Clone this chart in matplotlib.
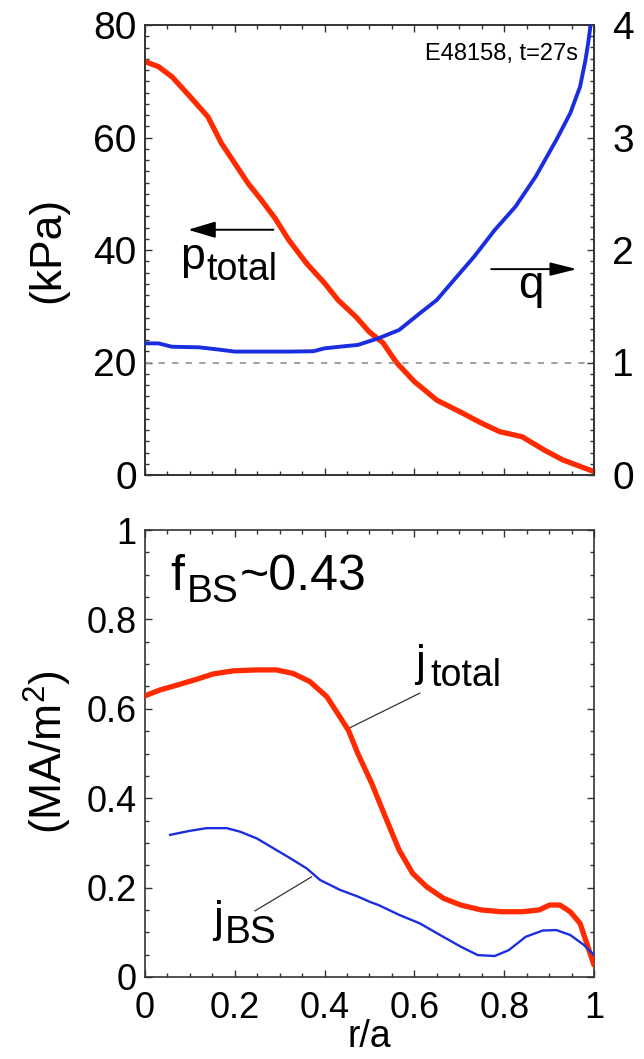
import matplotlib
matplotlib.use("Agg")
import matplotlib.pyplot as plt
from matplotlib.ticker import MultipleLocator, FixedLocator

plt.rcParams['font.family'] = ['Liberation Sans', 'DejaVu Sans']

# ---------------- data ----------------
r_p = [0.00, 0.03, 0.06, 0.10, 0.14, 0.17, 0.21, 0.23, 0.26, 0.29, 0.32, 0.36, 0.40,
       0.43, 0.47, 0.50, 0.53, 0.56, 0.60, 0.65, 0.70, 0.75, 0.79, 0.84, 0.89, 0.93,
       0.97, 1.00]
p_total = [73.5, 72.6, 70.8, 67.3, 63.7, 59.0, 54.2, 51.8, 48.8, 45.6, 41.8, 37.6, 34.1,
           31.1, 28.1, 25.4, 23.5, 20.0, 16.6, 13.3, 11.3, 9.2, 7.7, 6.8, 4.4, 2.7,
           1.5, 0.6]

r_q = [0.00, 0.03, 0.06, 0.12, 0.16, 0.20, 0.25, 0.32, 0.375, 0.40, 0.45, 0.474, 0.50,
       0.52, 0.566, 0.612, 0.65, 0.688, 0.733, 0.779, 0.825, 0.87, 0.916, 0.947, 0.969,
       0.981, 0.988, 0.994]
q = [1.17, 1.17, 1.14, 1.135, 1.117, 1.097, 1.097, 1.097, 1.10, 1.126, 1.147, 1.156, 1.19,
     1.215, 1.289, 1.437, 1.556, 1.733, 1.941, 2.178, 2.385, 2.652, 2.978, 3.215, 3.452,
     3.689, 3.867, 4.05]

r_jt = [0.0, 0.033, 0.071, 0.115, 0.152, 0.197, 0.249, 0.293, 0.33, 0.367, 0.405, 0.434,
        0.453, 0.474, 0.505, 0.535, 0.566, 0.596, 0.627, 0.665, 0.703, 0.749, 0.794, 0.84,
        0.878, 0.901, 0.924, 0.947, 0.969, 0.984, 1.0]
j_total = [0.629, 0.642, 0.653, 0.666, 0.678, 0.685, 0.687, 0.687, 0.679, 0.661, 0.627,
           0.582, 0.552, 0.50, 0.433, 0.359, 0.284, 0.232, 0.202, 0.176, 0.161, 0.150,
           0.146, 0.146, 0.150, 0.161, 0.161, 0.146, 0.120, 0.075, 0.027]

r_jb = [0.056, 0.10, 0.137, 0.182, 0.212, 0.249, 0.286, 0.323, 0.36, 0.39, 0.434, 0.474,
        0.501, 0.52, 0.566, 0.612, 0.657, 0.703, 0.741, 0.779, 0.81, 0.848, 0.886, 0.916,
        0.947, 0.977, 1.0]
j_bs = [0.318, 0.327, 0.333, 0.333, 0.325, 0.310, 0.288, 0.266, 0.243, 0.217, 0.195,
        0.180, 0.168, 0.161, 0.139, 0.120, 0.094, 0.068, 0.049, 0.047, 0.060, 0.090,
        0.104, 0.105, 0.094, 0.072, 0.049]

x_ticks = [0, 0.2, 0.4, 0.6, 0.8, 1.0]
x_ticklabels = ['0', '0.2', '0.4', '0.6', '0.8', '1']
p_ticks = [0, 20, 40, 60, 80]
q_ticks = [0, 1, 2, 3, 4]
j_ticks = [0, 0.2, 0.4, 0.6, 0.8, 1.0]
j_ticklabels = ['0', '0.2', '0.4', '0.6', '0.8', '1']

RED = '#ff2a00'
BLUE = '#1a2ee0'
SPINE = '#333333'

W, H = 644, 1059
fig = plt.figure(figsize=(W / 100, H / 100), dpi=100)


def rect(x0, y0, x1, y1):
    return [x0 / W, 1 - y1 / H, (x1 - x0) / W, (y1 - y0) / H]


def style_axis(ax, left=True, right=True):
    for s in ax.spines.values():
        s.set_color(SPINE)
        s.set_linewidth(1.2)
    ax.tick_params(which='both', direction='in', top=True, right=right, left=left,
                   color=SPINE, width=1.0)
    ax.tick_params(which='major', length=5)
    ax.tick_params(which='minor', length=3)


# ---------------- top panel ----------------
ax1 = fig.add_axes(rect(145, 25, 594, 475))
ax1.plot(r_p, p_total, color=RED, lw=3.8, solid_capstyle='round', zorder=3)
ax1.set_xlim(0, 1)
ax1.set_ylim(0, 80)
ax1.set_yticks(p_ticks)
ax1.yaxis.set_minor_locator(MultipleLocator(2))
ax1.xaxis.set_major_locator(FixedLocator(x_ticks))
ax1.xaxis.set_minor_locator(MultipleLocator(0.05))
ax1.set_xticklabels([])
style_axis(ax1, right=False)
ax1.tick_params(axis='y', labelsize=28, pad=6)

ax2 = ax1.twinx()
ax2.set_ylim(0, 4)
ax2.axhline(1.0, color='#999999', lw=1.3, linestyle=(0, (3.5, 4)), zorder=1)
ax2.plot(r_q, q, color=BLUE, lw=2.8, zorder=3)
ax2.set_yticks(q_ticks)
ax2.yaxis.set_minor_locator(MultipleLocator(0.1))
for s in ax2.spines.values():
    s.set_color(SPINE)
    s.set_linewidth(1.2)
ax2.tick_params(which='both', direction='in', color=SPINE, width=1.0)
ax2.tick_params(which='major', length=5, labelsize=28, pad=13)
ax2.tick_params(which='minor', length=3)

fig.text(48 / W, 1 - 250 / H, '(kPa)', rotation=90, ha='center', va='center', fontsize=32)

ax1.text(0.964, 73.8, 'E48158, t=27s', ha='right', va='baseline', fontsize=17)

# p_total arrow + label
ax1.annotate('', xy=(0.096, 43.6), xytext=(0.286, 43.6),
             arrowprops=dict(arrowstyle='-|>,head_length=0.6,head_width=0.18',
                             mutation_scale=28, color='black', lw=1.4,
                             shrinkA=0, shrinkB=0))
ax1.text(0.078, 36.7, 'p', ha='left', va='baseline', fontsize=32)
ax1.text(0.137, 34.7, 'total', ha='left', va='baseline', fontsize=27)

# q arrow + label
ax1.annotate('', xy=(0.962, 36.6), xytext=(0.771, 36.6),
             arrowprops=dict(arrowstyle='-|>,head_length=0.6,head_width=0.15',
                             mutation_scale=27, color='black', lw=1.4,
                             shrinkA=0, shrinkB=0))
ax1.text(0.832, 31.4, 'q', ha='left', va='baseline', fontsize=33)

# ---------------- bottom panel ----------------
ax3 = fig.add_axes(rect(145, 530, 594, 977))
ax3.plot(r_jt, j_total, color=RED, lw=3.8, solid_capstyle='round', zorder=3)
ax3.plot(r_jb, j_bs, color=BLUE, lw=1.7, zorder=3)
ax3.set_xlim(0, 1)
ax3.set_ylim(0, 1)
ax3.set_xticks(x_ticks)
ax3.set_xticklabels(x_ticklabels)
ax3.xaxis.set_minor_locator(MultipleLocator(0.05))
ax3.set_yticks(j_ticks)
ax3.set_yticklabels(j_ticklabels)
ax3.yaxis.set_minor_locator(MultipleLocator(0.05))
style_axis(ax3)
ax3.tick_params(axis='y', labelsize=26, pad=6)
ax3.tick_params(axis='x', labelsize=26, pad=10)
ax3.set_xlabel('r/a', fontsize=27, labelpad=-5)

fig.text(48 / W, 1 - 752 / H, '(MA/m$^{\\mathregular{2}}$)', rotation=90,
         ha='center', va='center', fontsize=32)

ax3.text(0.056, 0.866, 'f', ha='left', va='baseline', fontsize=36)
ax3.text(0.093, 0.840, 'BS', ha='left', va='baseline', fontsize=28)
ax3.text(0.212, 0.866, '~0.43', ha='left', va='baseline', fontsize=36)

ax3.plot([0.453, 0.612], [0.556, 0.635], color='#333333', lw=0.9, zorder=2)
ax3.text(0.601, 0.673, 'j', ha='left', va='baseline', fontsize=32)
ax3.text(0.635, 0.651, 'total', ha='left', va='baseline', fontsize=27)

ax3.plot([0.245, 0.371], [0.148, 0.224], color='#333333', lw=0.9, zorder=2)
ax3.text(0.151, 0.101, 'j', ha='left', va='baseline', fontsize=32)
ax3.text(0.178, 0.076, 'BS', ha='left', va='baseline', fontsize=28)

fig.savefig('out.png', dpi=100)
